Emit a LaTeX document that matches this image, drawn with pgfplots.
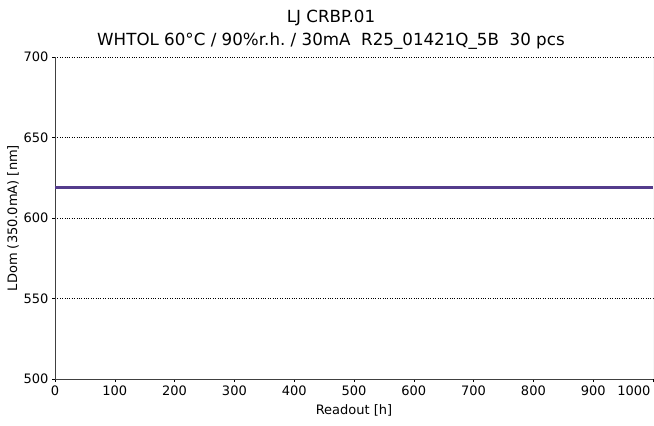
\documentclass[border=0pt]{standalone}
\usepackage{pgfplots}
\pgfplotsset{compat=1.18}
\usepackage{fontspec}
\setmainfont{DejaVu Sans}
\frenchspacing
\definecolor{lineviolet}{RGB}{84,60,140}
\begin{document}
\begin{tikzpicture}
\begin{axis}[
  scale only axis,
  width=598bp, height=322bp,
  at={(0,0)}, anchor=south west,
  xmin=0, xmax=1000, ymin=500, ymax=700,
  xtick={0,100,...,900},
  extra x ticks={1000},
  extra x tick style={xticklabel style={anchor=north east, xshift=1bp}},
  ytick={500,550,...,700},
  axis lines*=left,
  axis line style={-, black!75, line width=1pt},
  tick align=outside,
  major tick length=3bp,
  tick style={black, line width=0.6pt},
  ymajorgrids,
  grid style={black, dotted, line width=0.5pt},
  /pgf/number format/assume math mode=true,
  /pgf/number format/1000 sep={},
  tick label style={font=\fontsize{13bp}{15bp}\selectfont},
  label style={font=\fontsize{13bp}{15bp}\selectfont},
  xlabel={Readout [h]},
  ylabel={LDom (350.0mA) [nm]},
  xlabel style={yshift=4bp},
  ylabel style={yshift=-2bp},
  title style={font=\fontsize{16.7bp}{23bp}\selectfont, align=center, yshift=-2bp, xshift=-23bp},
  title={LJ CRBP.01\\WHTOL 60°C / 90\%r.h.\ / 30mA\ \ R25\_01421Q\_5B\ \ 30 pcs},
]
\addplot[lineviolet, line width=3bp] coordinates {(0,619) (1000,619)};
\draw[black!25, line width=0.8pt] (rel axis cs:1,0) -- (rel axis cs:1,1);
\end{axis}
\pgfresetboundingbox
\path[use as bounding box] (-55bp,-47bp) rectangle (599bp,379bp);
\end{tikzpicture}
\end{document}
